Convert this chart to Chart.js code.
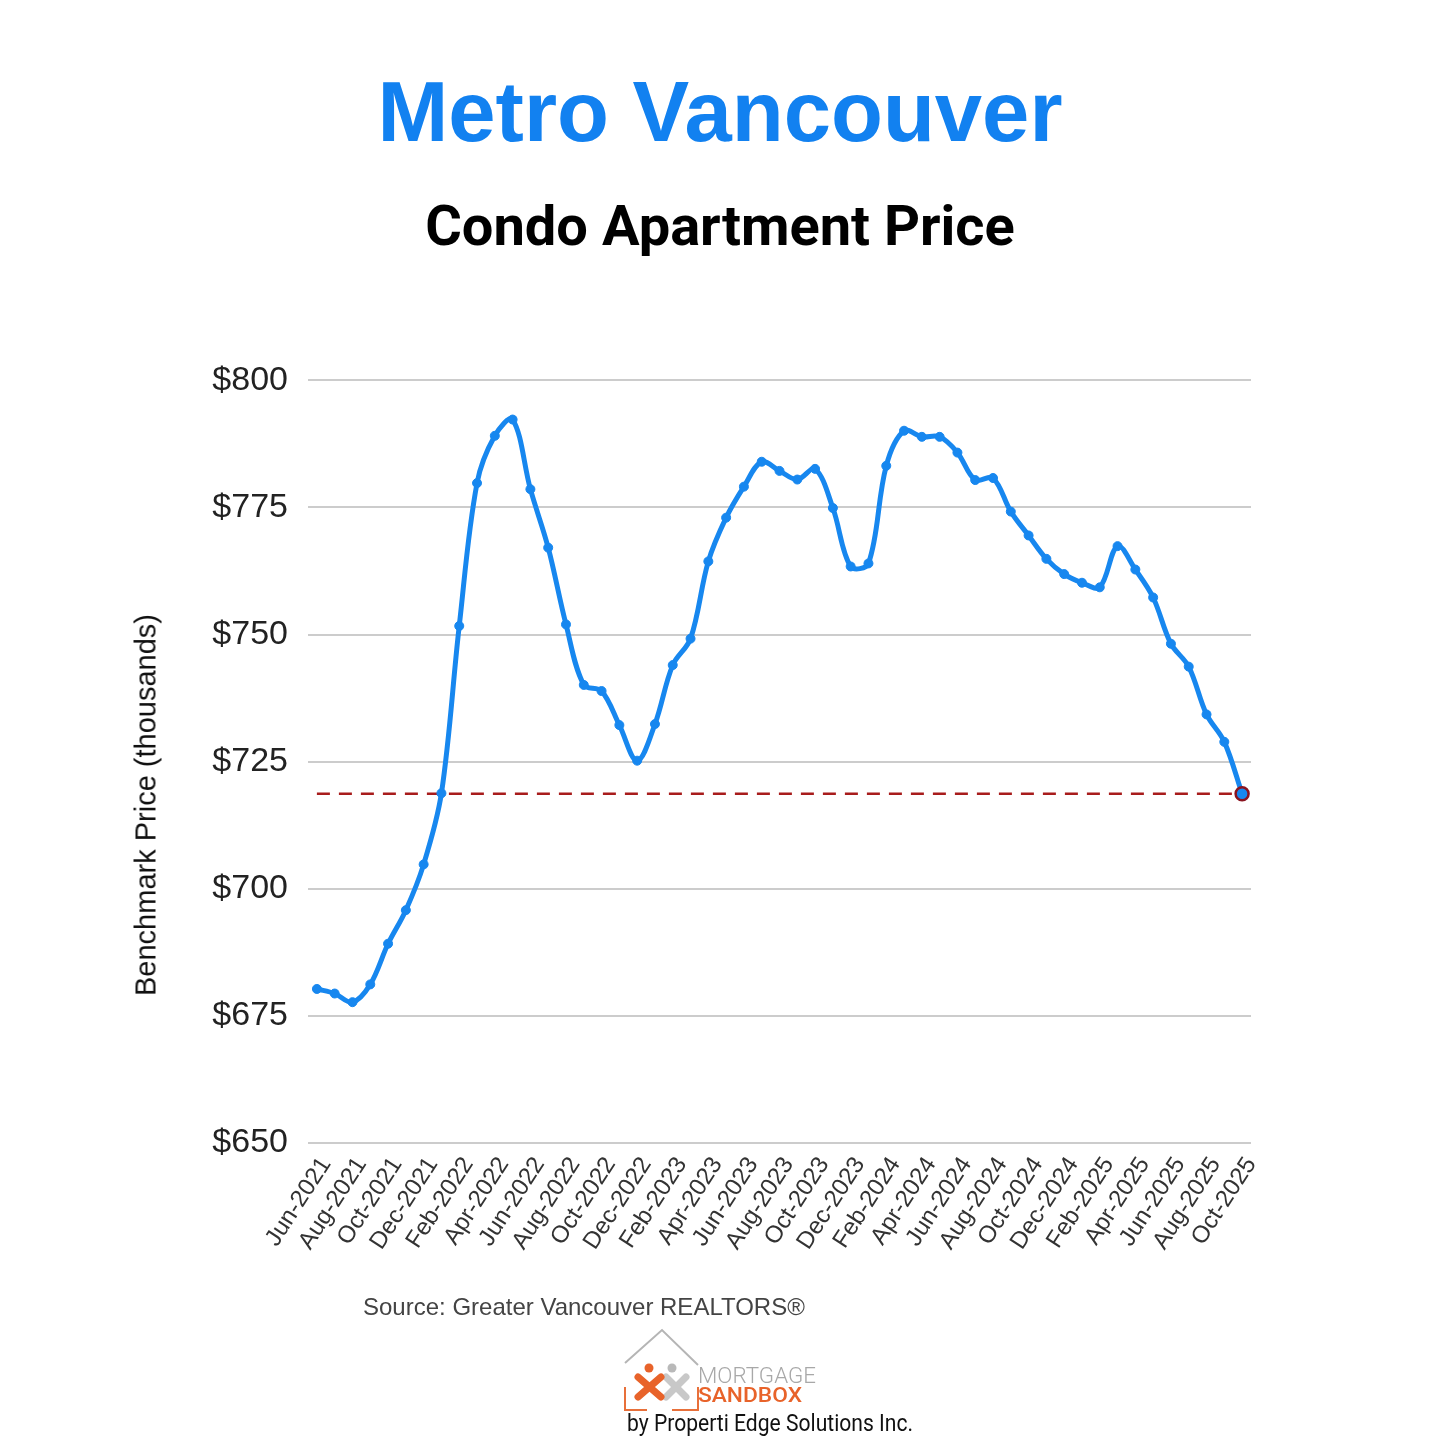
<!DOCTYPE html>
<html>
<head>
<meta charset="utf-8">
<script src="https://cdn.jsdelivr.net/npm/chart.js@4.4.1/dist/chart.umd.min.js"></script>
<style>
  body { margin: 0; background: #fff; }
  #page { position: relative; width: 1440px; height: 1440px; overflow: hidden; background: #fff; font-family: "Liberation Sans", Arial, sans-serif; }
  .title { position: absolute; left: 0; width: 1440px; text-align: center; white-space: nowrap; }
  #t1 { top: 63px; font: bold 85px "Liberation Sans", Arial, sans-serif; color: #1281f0; }
  #t2 { top: 193px; font: bold 56px Roboto, "Liberation Sans", sans-serif; color: #000; }
  #chartBox { position: absolute; left: 100px; top: 340px; width: 1200px; height: 960px; }
  #ytitle { position: absolute; left: 146px; top: 805px; transform: translate(-50%, -50%) rotate(-90deg); font-size: 29px; color: #111; white-space: nowrap; }
  #source { position: absolute; left: 363px; top: 1293px; font-size: 24px; color: #444; white-space: nowrap; }
  #logo { position: absolute; left: 600px; top: 1320px; }
</style>
</head>
<body>
<div id="page">
  <div id="t1" class="title">Metro Vancouver</div>
  <div id="t2" class="title">Condo Apartment Price</div>
  <div id="chartBox"><canvas id="myChart"></canvas></div>
  <div id="ytitle">Benchmark Price (thousands)</div>
  <div id="source">Source: Greater Vancouver REALTORS®</div>
  <svg id="logo" width="340" height="120" viewBox="0 0 340 120">
    <polyline points="25,43 62,10 98,45" fill="none" stroke="#b5b5b5" stroke-width="2"/>
    <polyline points="25,67 25,90 47,90" fill="none" stroke="#e8703a" stroke-width="2"/>
    <polyline points="98,67 98,90 72,90" fill="none" stroke="#e8703a" stroke-width="2"/>
    <circle cx="72" cy="48" r="4.5" fill="#b9b9b9"/>
    <line x1="66" y1="57" x2="86" y2="77" stroke="#c8c8c8" stroke-width="7" stroke-linecap="round"/>
    <line x1="86" y1="57" x2="66" y2="77" stroke="#c8c8c8" stroke-width="7" stroke-linecap="round"/>
    <circle cx="49" cy="48" r="4.5" fill="#e8632a"/>
    <line x1="38" y1="57" x2="61" y2="77" stroke="#e8632a" stroke-width="7" stroke-linecap="round"/>
    <line x1="61" y1="57" x2="38" y2="77" stroke="#e8632a" stroke-width="7" stroke-linecap="round"/>
    <text x="98" y="63" font-family="Roboto, sans-serif" font-size="22" font-weight="300" fill="#a8a8a8" textLength="118" lengthAdjust="spacingAndGlyphs">MORTGAGE</text>
    <text x="98" y="82" font-family="Roboto, sans-serif" font-size="21" font-weight="500" fill="#e8632a" textLength="104" lengthAdjust="spacingAndGlyphs">SANDBOX</text>
    <text x="27" y="111" font-family="Roboto, sans-serif" font-size="24" fill="#111" textLength="286" lengthAdjust="spacingAndGlyphs">by Properti Edge Solutions Inc.</text>
  </svg>
</div>
<script>
const months = [
  'Jun-2021', 'Jul-2021', 'Aug-2021', 'Sep-2021', 'Oct-2021', 'Nov-2021', 'Dec-2021',
  'Jan-2022', 'Feb-2022', 'Mar-2022', 'Apr-2022', 'May-2022', 'Jun-2022', 'Jul-2022', 'Aug-2022', 'Sep-2022', 'Oct-2022', 'Nov-2022', 'Dec-2022',
  'Jan-2023', 'Feb-2023', 'Mar-2023', 'Apr-2023', 'May-2023', 'Jun-2023', 'Jul-2023', 'Aug-2023', 'Sep-2023', 'Oct-2023', 'Nov-2023', 'Dec-2023',
  'Jan-2024', 'Feb-2024', 'Mar-2024', 'Apr-2024', 'May-2024', 'Jun-2024', 'Jul-2024', 'Aug-2024', 'Sep-2024', 'Oct-2024', 'Nov-2024', 'Dec-2024',
  'Jan-2025', 'Feb-2025', 'Mar-2025', 'Apr-2025', 'May-2025', 'Jun-2025', 'Jul-2025', 'Aug-2025', 'Sep-2025', 'Oct-2025'
];
// benchmark price, thousands of dollars
const prices = [
  680.3, 679.4, 677.7, 681.2, 689.2, 695.8, 704.8,
  718.8, 751.7, 779.8, 789.1, 792.3, 778.6, 767.1, 752.0, 740.1, 738.9, 732.2, 725.2,
  732.4, 744.0, 749.2, 764.4, 773.0, 779.1, 784.0, 782.2, 780.5, 782.6, 774.9, 763.4,
  764.0, 783.2, 790.1, 788.9, 788.9, 785.8, 780.4, 780.8, 774.2, 769.5, 764.9, 761.9,
  760.2, 759.3, 767.4, 762.8, 757.3, 748.2, 743.7, 734.3, 728.9, 718.7
];
const yTicks = [650, 675, 700, 725, 750, 775, 800];

const blue = '#1787ef';
const darkRed = '#a81c1c';
const last = prices.length - 1;
const latest = prices[last];

const data = {
  labels: months,
  datasets: [{
    label: 'Benchmark Price',
    data: prices,
    borderColor: blue,
    backgroundColor: blue,
    borderWidth: 5,
    tension: 0.35,
    pointRadius: ctx => ctx.dataIndex === last ? 6.5 : 4.5,
    pointBackgroundColor: blue,
    pointBorderColor: ctx => ctx.dataIndex === last ? '#8a1420' : blue,
    pointBorderWidth: ctx => ctx.dataIndex === last ? 2.5 : 1,
    clip: false
  }, {
    label: 'Current level',
    data: months.map(() => latest),
    borderColor: darkRed,
    borderWidth: 2.5,
    borderDash: [13, 9],
    pointRadius: 0,
    tension: 0
  }]
};

const config = {
  type: 'line',
  data: data,
  options: {
    responsive: true,
    maintainAspectRatio: false,
    animation: false,
    layout: { padding: { left: 0, right: 49, top: 38, bottom: 0 } },
    plugins: { legend: { display: false }, tooltip: { enabled: false } },
    scales: {
      x: {
        offset: true,
        grid: { display: false, drawTicks: false },
        border: { display: false },
        afterFit: scale => { scale.height = 157; },
        ticks: {
          autoSkip: false,
          minRotation: 57,
          maxRotation: 57,
          padding: 9,
          labelOffset: 9,
          color: '#333',
          font: { family: '"Liberation Sans", Arial, sans-serif', size: 24 },
          callback: function (value, index) {
            return index % 2 === 0 ? months[index] : '';
          }
        }
      },
      y: {
        min: yTicks[0],
        max: yTicks[yTicks.length - 1],
        afterFit: scale => { scale.width = 208; },
        afterBuildTicks: scale => { scale.ticks = yTicks.map(v => ({ value: v })); },
        grid: { color: '#cccccc', lineWidth: 2, drawTicks: false },
        border: { display: false },
        ticks: {
          padding: 20,
          color: '#222',
          font: { family: '"Liberation Sans", Arial, sans-serif', size: 34 },
          callback: v => '$' + v
        }
      }
    }
  }
};

const myChart = new Chart(document.getElementById('myChart'), config);
</script>
</body>
</html>
